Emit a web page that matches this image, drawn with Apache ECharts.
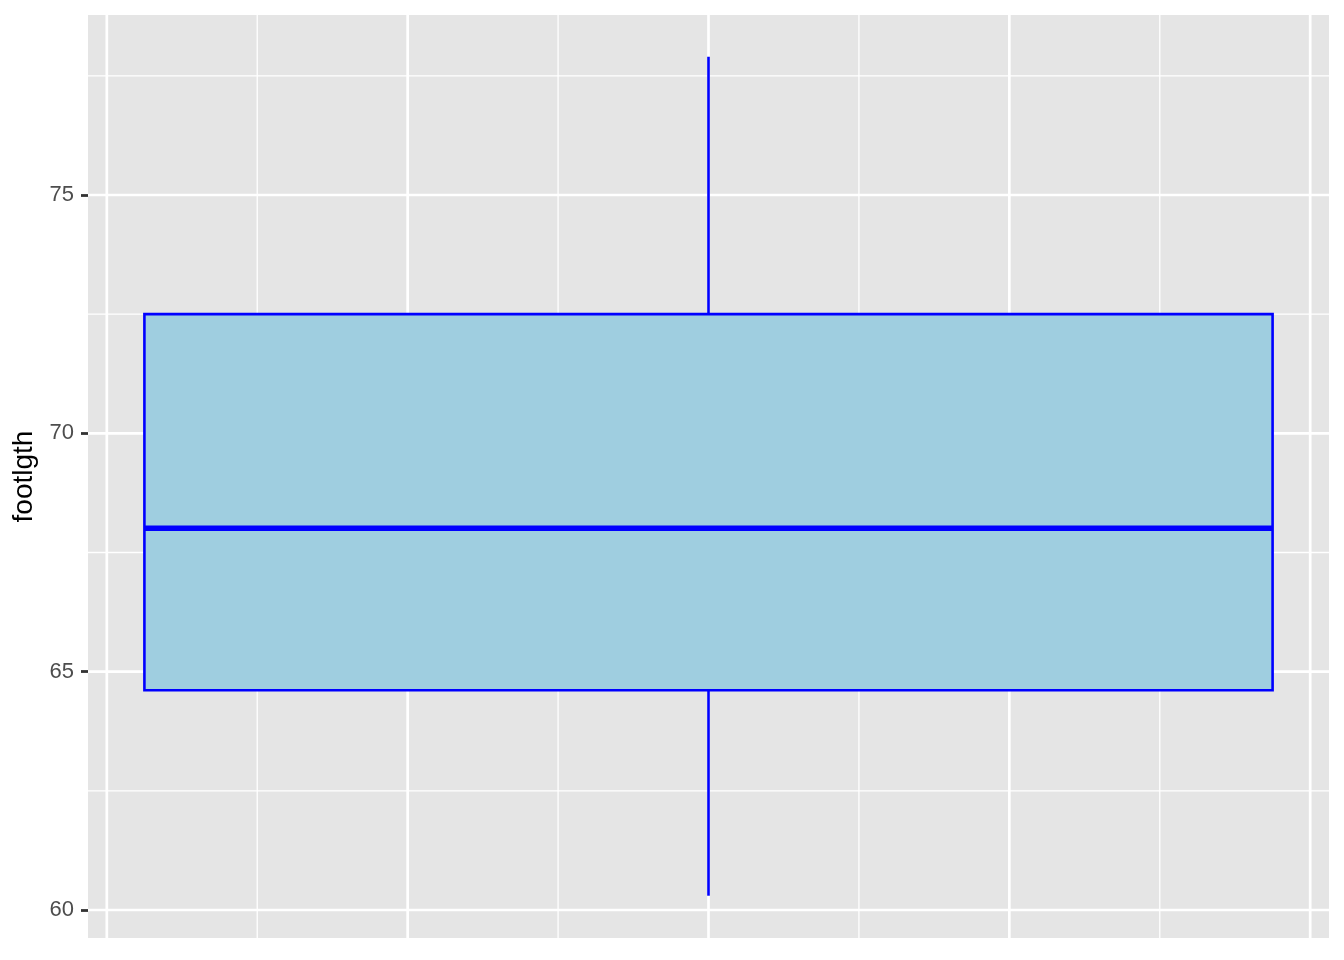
<!DOCTYPE html>
<html>
<head>
<meta charset="utf-8">
<script src="https://cdn.jsdelivr.net/npm/echarts@6/dist/echarts.min.js"></script>
<style>html,body{margin:0;padding:0;background:#fff;}#chart{width:1344px;height:960px;}</style>
</head>
<body>
<div id="chart"></div>
<script>
// ---- data ----
const boxStats = [[0, 60.3, 64.61, 68.01, 72.5, 77.9]]; // x, lower whisker, Q1, median, Q3, upper whisker
const yLabel = 'footlgth';
const yMajorBreaks = [60, 65, 70, 75];
const yMinorBreaks = [62.5, 67.5, 72.5, 77.5];
const xMajorBreaks = [-0.4, -0.2, 0, 0.2, 0.4];
const xMinorBreaks = [-0.3, -0.1, 0.1, 0.3];
const xLimits = [-0.4125, 0.4125];
const yLimits = [59.413, 78.776];

const BOX_HALF = 0.375;
const FONT = '"Liberation Sans", Arial, Helvetica, sans-serif';

function gridLineItem(params, api) {
  const cs = params.coordSys;
  const orient = api.value(0); // 0 = horizontal (y break), 1 = vertical (x break)
  const v = api.value(1);
  const w = api.value(2);
  let shape;
  if (orient === 0) {
    const p = api.coord([xLimits[0], v]);
    shape = {x1: cs.x, y1: p[1], x2: cs.x + cs.width, y2: p[1]};
  } else {
    const p = api.coord([v, yLimits[0]]);
    shape = {x1: p[0], y1: cs.y, x2: p[0], y2: cs.y + cs.height};
  }
  return {type: 'line', shape: shape, style: {stroke: '#FFFFFF', lineWidth: w}};
}

const gridData = [];
yMajorBreaks.forEach(v => gridData.push([0, v, 2.7]));
yMinorBreaks.forEach(v => gridData.push([0, v, 1.3]));
xMajorBreaks.forEach(v => gridData.push([1, v, 2.7]));
xMinorBreaks.forEach(v => gridData.push([1, v, 1.3]));

function boxItem(params, api) {
  const x = api.value(0);
  const lo = api.value(1), q1 = api.value(2), med = api.value(3), q3 = api.value(4), hi = api.value(5);
  const pLo = api.coord([x, lo]);
  const pHi = api.coord([x, hi]);
  const pQ1L = api.coord([x - BOX_HALF, q1]);
  const pQ3R = api.coord([x + BOX_HALF, q3]);
  const pMedL = api.coord([x - BOX_HALF, med]);
  const pMedR = api.coord([x + BOX_HALF, med]);
  const pQ1 = api.coord([x, q1]);
  const pQ3 = api.coord([x, q3]);
  const stroke = '#0000FF';
  return {
    type: 'group',
    children: [
      {type: 'line', shape: {x1: pLo[0], y1: pLo[1], x2: pQ1[0], y2: pQ1[1]}, style: {stroke: stroke, lineWidth: 2.6}},
      {type: 'line', shape: {x1: pQ3[0], y1: pQ3[1], x2: pHi[0], y2: pHi[1]}, style: {stroke: stroke, lineWidth: 2.6}},
      {type: 'rect', shape: {x: pQ1L[0], y: pQ3R[1], width: pQ3R[0] - pQ1L[0], height: pQ1L[1] - pQ3R[1]},
        style: {fill: '#9FCEE0', stroke: stroke, lineWidth: 2.6}},
      {type: 'line', shape: {x1: pMedL[0], y1: pMedL[1], x2: pMedR[0], y2: pMedR[1]}, style: {stroke: stroke, lineWidth: 5.6}}
    ]
  };
}

const chart = echarts.init(document.getElementById('chart'), null, {renderer: 'canvas'});
chart.setOption({
  animation: false,
  backgroundColor: '#FFFFFF',
  grid: {
    left: 88, right: 15, top: 15, bottom: 22,
    show: true, backgroundColor: '#E5E5E5', borderWidth: 0,
    containLabel: false
  },
  xAxis: {
    type: 'value', min: xLimits[0], max: xLimits[1],
    axisLine: {show: false, onZero: false}, axisTick: {show: false}, axisLabel: {show: false},
    splitLine: {show: false}
  },
  yAxis: {
    type: 'value', min: yLimits[0], max: yLimits[1], position: 'left',
    name: yLabel, nameLocation: 'middle', nameRotate: 90, nameGap: 47,
    nameTextStyle: {color: '#000000', fontSize: 28, fontFamily: FONT},
    axisLine: {show: false, onZero: false},
    axisTick: {show: true, customValues: yMajorBreaks, length: 7, lineStyle: {color: '#333333', width: 2.8}},
    axisLabel: {show: true, customValues: yMajorBreaks, margin: 14, color: '#4D4D4D', fontSize: 22, fontFamily: FONT},
    splitLine: {show: false}
  },
  series: [
    {type: 'custom', z: 1, silent: true, renderItem: gridLineItem, data: gridData, clip: false},
    {type: 'custom', z: 2, silent: true, renderItem: boxItem, data: boxStats}
  ]
});
</script>
</body>
</html>
